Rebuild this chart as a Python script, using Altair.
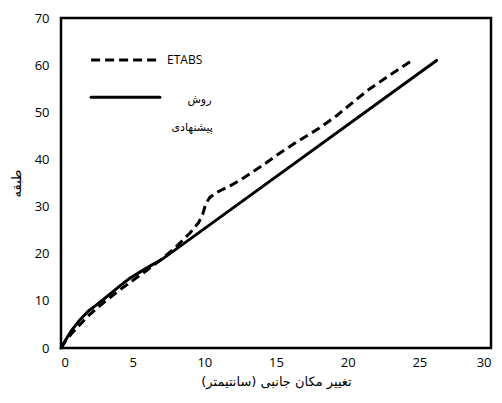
import altair as alt
import pandas as pd

# ETABS (dashed)
etabs_x = [0, 0.3, 0.7, 1.2, 2, 3, 4, 5, 6, 7, 8, 9, 9.6, 9.9, 10.1, 10.4, 11, 11.8, 12.5, 14, 15.2, 16.5, 18, 19.2, 20.4, 21.5, 23, 24.5]
etabs_y = [0, 1.4, 2.9, 4.6, 7.1, 9.7, 12.1, 14.3, 16.5, 18.8, 21.4, 24.4, 26.6, 28.5, 30.6, 32.0, 33.2, 34.4, 35.6, 38.6, 41.2, 43.8, 46.6, 49.2, 52.2, 54.9, 58, 61]

# Proposed method (solid)
prop_x = [0, 0.3, 0.75, 1.3, 1.9, 2.5, 3, 3.6, 4.2, 4.8, 5.5, 6.0, 6.5, 7, 26.2]
prop_y = [0, 1.6, 3.8, 5.9, 7.8, 9.2, 10.4, 11.9, 13.4, 14.8, 16.1, 17.0, 17.9, 18.7, 61]

x_ticks = [0, 5, 10, 15, 20, 25, 30]
y_ticks = [0, 10, 20, 30, 40, 50, 60, 70]

x_title = "تغییر مکان جانبی (سانتیمتر)"
y_title = "طبقه"
leg_etabs = "ETABS"
leg_prop = ["روش", "پیشنهادی"]

# legend placement in data units
leg_line_x = [2.1, 6.7]
leg_line_y = [61.1, 53.2]
leg_text_x = [7.4, 10.5, 10.6]
leg_text_y = [61.1, 52.6, 46.7]

df_e = pd.DataFrame({"x": etabs_x, "y": etabs_y})
df_p = pd.DataFrame({"x": prop_x, "y": prop_y})

xs = alt.Scale(domain=[0, 30], nice=False)
ys = alt.Scale(domain=[0, 70], nice=False)

num_font = "Open Sans"
fa_font = "DejaVu Sans"

x_enc = alt.X("x:Q", scale=xs, axis=alt.Axis(values=x_ticks, title=x_title, ticks=False, grid=False,
                                                 domain=False, labelFont=num_font, labelFontSize=13,
                                                 labelPadding=8, labelColor="black",
                                                 titleFont=fa_font, titleFontSize=13, titleFontWeight="normal",
                                                 titlePadding=6, titleColor="black"))
y_enc = alt.Y("y:Q", scale=ys, axis=alt.Axis(values=y_ticks, title=y_title, ticks=False, grid=False,
                                                 domain=False, labelFont=num_font, labelFontSize=13,
                                                 labelPadding=12, labelColor="black",
                                                 titleFont=fa_font, titleFontSize=13, titleFontWeight="normal",
                                                 titlePadding=11, titleColor="black"))

etabs = alt.Chart(df_e).mark_line(color="black", strokeWidth=3, strokeDash=[9, 5], strokeCap="butt").encode(
    x=x_enc, y=y_enc, order="x:Q")
prop = alt.Chart(df_p).mark_line(color="black", strokeWidth=3, strokeCap="round").encode(
    x=alt.X("x:Q", scale=xs), y=alt.Y("y:Q", scale=ys), order="x:Q")

df_l1 = pd.DataFrame({"x": [leg_line_x[0]], "x2": [leg_line_x[1]], "y": [leg_line_y[0]]})
df_l2 = pd.DataFrame({"x": [leg_line_x[0]], "x2": [leg_line_x[1] + 0.2], "y": [leg_line_y[1]]})
l1 = alt.Chart(df_l1).mark_rule(color="black", strokeWidth=3, strokeDash=[9, 5]).encode(
    x=alt.X("x:Q", scale=xs), x2="x2:Q", y=alt.Y("y:Q", scale=ys))
l2 = alt.Chart(df_l2).mark_rule(color="black", strokeWidth=3, strokeCap="round").encode(
    x=alt.X("x:Q", scale=xs), x2="x2:Q", y=alt.Y("y:Q", scale=ys))

df_t1 = pd.DataFrame({"x": [leg_text_x[0]], "y": [leg_text_y[0]], "t": [leg_etabs]})
t1 = alt.Chart(df_t1).mark_text(align="left", baseline="middle", font=num_font, fontSize=12, color="black").encode(
    x=alt.X("x:Q", scale=xs), y=alt.Y("y:Q", scale=ys), text="t:N")
df_t2 = pd.DataFrame({"x": leg_text_x[1:], "y": leg_text_y[1:], "t": leg_prop})
t2 = alt.Chart(df_t2).mark_text(align="right", baseline="middle", font=fa_font, fontSize=11, color="black").encode(
    x=alt.X("x:Q", scale=xs), y=alt.Y("y:Q", scale=ys), text="t:N")

chart = alt.layer(etabs, prop, l1, l2, t1, t2).properties(
    width=430, height=330,
    background="white",
    autosize=alt.AutoSizeParams(type="none"),
    padding={"left": 53, "top": 10, "right": 3, "bottom": 47},
).configure_view(stroke="black", strokeWidth=2.5)

chart.save("out.html", embed_options={"renderer": "svg", "actions": False})
